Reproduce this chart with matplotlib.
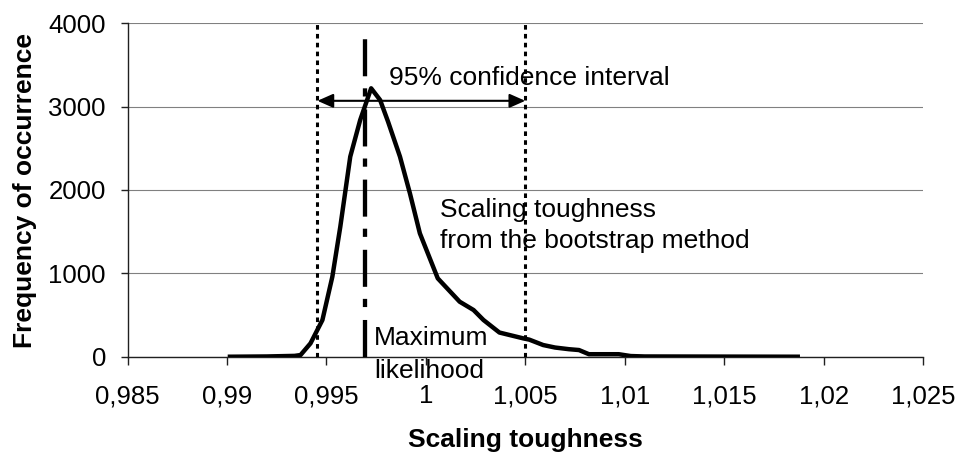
import numpy as np
import matplotlib
matplotlib.use("Agg")
import matplotlib.pyplot as plt
from matplotlib.ticker import FuncFormatter, MultipleLocator

plt.rcParams["font.family"] = ["Liberation Sans", "DejaVu Sans"]

# bootstrap histogram
toughness = [0.99015, 0.9920, 0.9934, 0.9937, 0.9942, 0.9948, 0.9953, 0.9957,
             0.9962, 0.9967, 0.99725, 0.9977, 0.9981, 0.9987, 0.9992, 0.9997,
             1.0006, 1.0017, 1.0024, 1.0029, 1.0037, 1.0049, 1.0052, 1.0059,
             1.0065, 1.0072, 1.0077, 1.0082, 1.0097, 1.0103, 1.0110, 1.0187]
frequency = [0, 3, 10, 20, 160, 440, 960, 1560,
             2400, 2840, 3220, 3080, 2820, 2400, 1960, 1480,
             940, 660, 560, 440, 290, 220, 205, 140,
             110, 90, 80, 30, 30, 8, 3, 0]

ci_low, ci_high = 0.99455, 1.0050
max_likelihood = 0.99694
arrow_y = 3070

fig = plt.figure(figsize=(9.58, 4.54), dpi=100)
ax = fig.add_axes([0.1331, 0.2143, 0.8304, 0.7344])

ax.grid(True, axis="y", color="#808080", linewidth=0.8)
ax.set_axisbelow(True)

ax.vlines([ci_low, ci_high], 0, 4000, colors="black", linewidth=2.2,
          linestyles=(0, (1.5, 1.4)), zorder=3)
ml = ax.vlines([max_likelihood], 0, 3900, colors="black", linewidth=3.1,
               linestyles=(0, (8.6, 3.0, 1.9, 2.8)), zorder=3)
ml.set_capstyle("butt")

ax.plot(toughness, frequency, color="black", linewidth=3.2,
        solid_joinstyle="round", zorder=4)

ax.annotate("", xy=(ci_low, arrow_y), xytext=(ci_high, arrow_y),
            arrowprops=dict(arrowstyle="<|-|>,head_length=0.95,head_width=0.42",
                            mutation_scale=10, color="black", lw=1.5,
                            shrinkA=0, shrinkB=0), zorder=5)

# multi-line texts: va="baseline" pins the last line
ax.text(0.99817, 3260, "95% confidence interval", fontsize=19,
        ha="left", va="baseline", zorder=6)
ax.text(1.00071, 1300, "Scaling toughness\nfrom the bootstrap method",
        fontsize=19, ha="left", va="baseline", linespacing=1.4, zorder=6)
ax.text(0.99739, -256, "Maximum\nlikelihood", fontsize=19, ha="left",
        va="baseline", linespacing=1.45, clip_on=False, zorder=6)

ax.set_xlim(0.985, 1.025)
ax.set_ylim(0, 4000)
ax.xaxis.set_major_locator(MultipleLocator(0.005))
ax.yaxis.set_major_locator(MultipleLocator(1000))
ax.xaxis.set_major_formatter(FuncFormatter(
    lambda v, p: f"{v:.3f}".rstrip("0").rstrip(".").replace(".", ",")))
ax.yaxis.set_major_formatter(FuncFormatter(lambda v, p: f"{v:.0f}"))

for side in ["top", "right"]:
    ax.spines[side].set_visible(False)
for side in ["left", "bottom"]:
    ax.spines[side].set_color("#202020")
    ax.spines[side].set_linewidth(1.0)

ax.tick_params(axis="x", direction="out", length=6, width=1, color="#202020",
               labelsize=18.5, pad=14)
ax.tick_params(axis="y", direction="out", length=5, width=1, color="#202020",
               labelsize=18.5, pad=10.5)

ax.set_xlabel("Scaling toughness", fontsize=19, fontweight="bold")
ax.set_ylabel("Frequency of occurrence", fontsize=19, fontweight="bold")
ax.xaxis.set_label_coords(0.5, -0.214)
ax.yaxis.set_label_coords(-0.114, 0.497)

fig.savefig("out.png", dpi=100)
